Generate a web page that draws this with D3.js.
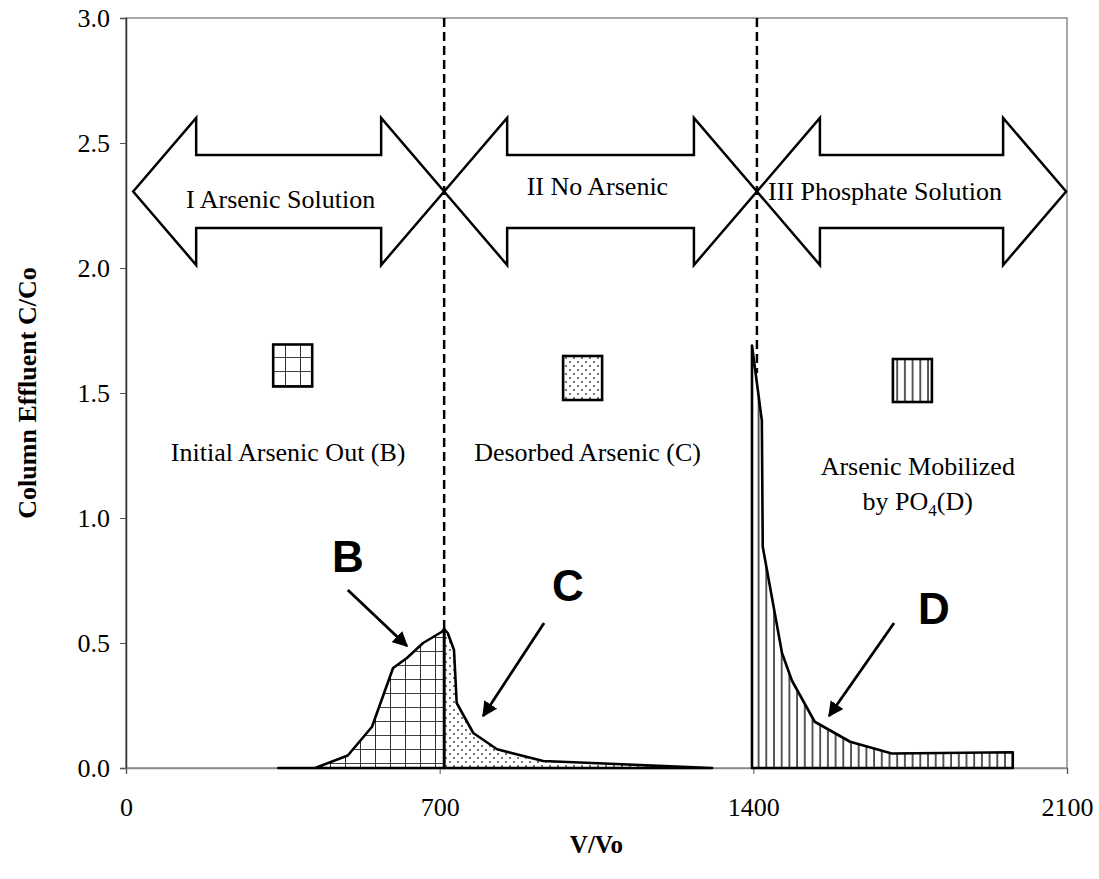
<!DOCTYPE html>
<html>
<head>
<meta charset="utf-8">
<script src="https://cdn.jsdelivr.net/npm/d3@7"></script>
<style>
  body { margin: 0; background: #fff; }
  svg { display: block; font-family: "Liberation Serif", "Times New Roman", serif; }
</style>
</head>
<body>
<div id="chart"></div>
<script>
const xTicks = [0, 700, 1400, 2100]
const yTicks = [0, 0.5, 1.0, 1.5, 2.0, 2.5, 3.0]

// B: initial arsenic out, C: desorbed arsenic, D: mobilized by PO4
const bV = [340, 422, 495, 549, 596, 627, 663, 705, 710]
const bC = [0, 0, 0.05, 0.165, 0.40, 0.44, 0.50, 0.545, 0.556]
const cV = [710, 718, 732, 738, 775, 828, 931, 1308]
const cC = [0.556, 0.54, 0.472, 0.26, 0.14, 0.075, 0.028, 0]
const dV = [1397, 1419, 1421, 1464, 1486, 1537, 1616, 1709, 1979]
const dC = [1.69, 1.39, 0.885, 0.46, 0.35, 0.185, 0.105, 0.058, 0.063]

const phaseLabels = ['I Arsenic Solution', 'II No Arsenic', 'III Phosphate Solution']
const phaseStart = [16, 710, 1408]
const phaseEnd = [710, 1408, 2098]
const phaseLabelX = [345, 1052, 1694]
const phaseLabelY = [2.24, 2.292, 2.272]

const boundaryV = [710, 1408]
const boundaryBottom = [0.556, 1.58]

const width = 1099, height = 879
const svg = d3.select('#chart').append('svg')
    .attr('width', width)
    .attr('height', height)

const x = d3.scaleLinear().domain([0, 2100]).range([126, 1067])
const y = d3.scaleLinear().domain([0, 3]).range([768, 18])

const defs = svg.append('defs')

const grid = defs.append('pattern')
    .attr('id', 'grid').attr('patternUnits', 'userSpaceOnUse')
    .attr('x', 0).attr('y', 7).attr('width', 15).attr('height', 14)
grid.append('path').attr('d', 'M0,0V14M0,0H15')
    .attr('stroke', '#000').attr('stroke-width', 1.6).attr('fill', 'none')

const dots = defs.append('pattern')
    .attr('id', 'dots').attr('patternUnits', 'userSpaceOnUse')
    .attr('width', 8).attr('height', 8)
dots.append('circle').attr('cx', 2).attr('cy', 2).attr('r', 0.9).attr('fill', '#333')
dots.append('circle').attr('cx', 6).attr('cy', 6).attr('r', 0.9).attr('fill', '#333')

const vlines = defs.append('pattern')
    .attr('id', 'vlines').attr('patternUnits', 'userSpaceOnUse')
    .attr('x', 3).attr('width', 7.7).attr('height', 10)
vlines.append('path').attr('d', 'M1,0V10')
    .attr('stroke', '#000').attr('stroke-width', 1.3)

// frame
svg.append('rect')
    .attr('x', x(0)).attr('y', y(3))
    .attr('width', x(2100) - x(0)).attr('height', y(0) - y(3))
    .attr('fill', 'none').attr('stroke', '#8a8a8a').attr('stroke-width', 1.5)

const yAxis = svg.append('g')
    .attr('transform', `translate(${x(0)},0)`)
    .call(d3.axisLeft(y).tickValues(yTicks).tickFormat(d3.format('.1f')).tickSize(6).tickPadding(10))
yAxis.select('.domain').attr('stroke', '#333').attr('stroke-width', 1.5)
yAxis.selectAll('.tick line').attr('stroke', '#555')
yAxis.selectAll('text')
    .attr('font-family', '"Liberation Serif", serif')
    .attr('font-size', 26)
    .attr('fill', '#000')

const xAxis = svg.append('g')
    .attr('transform', `translate(0,${y(0)})`)
    .call(d3.axisBottom(x).tickValues(xTicks).tickFormat(d3.format('d')).tickSize(6).tickPadding(24))
xAxis.select('.domain').attr('stroke', '#8a8a8a').attr('stroke-width', 1.5)
xAxis.selectAll('.tick line').attr('stroke', '#555')
xAxis.selectAll('text')
    .attr('font-family', '"Liberation Serif", serif')
    .attr('font-size', 26)
    .attr('fill', '#000')

svg.append('text')
    .attr('transform', `translate(36,${(y(0) + y(3)) / 2}) rotate(-90)`)
    .attr('text-anchor', 'middle')
    .attr('font-weight', 'bold')
    .attr('font-size', 26)
    .text('Column Effluent C/Co')

svg.append('text')
    .attr('x', (x(0) + x(2100)) / 2)
    .attr('y', 853)
    .attr('text-anchor', 'middle')
    .attr('font-weight', 'bold')
    .attr('font-size', 25)
    .text('V/Vo')

// filled curves
const area = d3.area()
    .x(d => x(d.v))
    .y0(y(0))
    .y1(d => y(d.c))

const series = [
    { fill: 'url(#grid)', pts: bV.map((v, i) => ({ v, c: bC[i] })) },
    { fill: 'url(#dots)', pts: cV.map((v, i) => ({ v, c: cC[i] })) },
    { fill: 'url(#vlines)', pts: dV.map((v, i) => ({ v, c: dC[i] })) }
]

svg.selectAll('.curve')
    .data(series)
    .join('path')
    .attr('class', 'curve')
    .attr('d', d => area(d.pts) + 'Z')
    .attr('fill', d => d.fill)
    .attr('stroke', '#000')
    .attr('stroke-width', 2.6)
    .attr('stroke-linejoin', 'round')

// phase boundaries
svg.selectAll('.boundary')
    .data(boundaryV)
    .join('line')
    .attr('class', 'boundary')
    .attr('x1', d => x(d)).attr('x2', d => x(d))
    .attr('y1', y(3))
    .attr('y2', (d, i) => y(boundaryBottom[i]))
    .attr('stroke', '#000')
    .attr('stroke-width', 2.5)
    .attr('stroke-dasharray', '9,5')

// big double arrows
const headLen = 63, headHalf = 73.5, shaftHalf = 36.5
const arrowY = y(2.306)
function blockArrow(x0, x1) {
    const c = arrowY
    return [
        [x0, c], [x0 + headLen, c - headHalf], [x0 + headLen, c - shaftHalf],
        [x1 - headLen, c - shaftHalf], [x1 - headLen, c - headHalf], [x1, c],
        [x1 - headLen, c + headHalf], [x1 - headLen, c + shaftHalf],
        [x0 + headLen, c + shaftHalf], [x0 + headLen, c + headHalf]
    ]
}

svg.selectAll('.phase')
    .data(phaseLabels)
    .join('path')
    .attr('class', 'phase')
    .attr('d', (d, i) => d3.line()(blockArrow(x(phaseStart[i]), x(phaseEnd[i]))) + 'Z')
    .attr('fill', 'none')
    .attr('stroke', '#000')
    .attr('stroke-width', 2.5)

svg.selectAll('.phase-label')
    .data(phaseLabels)
    .join('text')
    .attr('class', 'phase-label')
    .attr('x', (d, i) => x(phaseLabelX[i]))
    .attr('y', (d, i) => y(phaseLabelY[i]))
    .attr('text-anchor', 'middle')
    .attr('font-size', 26)
    .text(d => d)

// legend swatches and captions
const swatches = [
    { v: 372, c: 1.61, w: 39, h: 42, fill: 'url(#grid)' },
    { v: 1019, c: 1.56, w: 39, h: 44, fill: 'url(#dots)' },
    { v: 1755, c: 1.55, w: 39, h: 43, fill: 'url(#vlines)' }
]
svg.selectAll('.swatch')
    .data(swatches)
    .join('rect')
    .attr('class', 'swatch')
    .attr('x', d => x(d.v) - d.w / 2)
    .attr('y', d => y(d.c) - d.h / 2)
    .attr('width', d => d.w)
    .attr('height', d => d.h)
    .attr('fill', d => d.fill)
    .attr('stroke', '#000')
    .attr('stroke-width', 2.6)

const captions = [
    { v: 362, c: 1.228, t: 'Initial Arsenic Out (B)' },
    { v: 1030, c: 1.228, t: 'Desorbed Arsenic (C)' },
    { v: 1767, c: 1.172, t: 'Arsenic Mobilized' }
]
svg.selectAll('.caption')
    .data(captions)
    .join('text')
    .attr('class', 'caption')
    .attr('x', d => x(d.v))
    .attr('y', d => y(d.c))
    .attr('text-anchor', 'middle')
    .attr('font-size', 26)
    .text(d => d.t)

const po4 = svg.append('text')
    .attr('x', x(1767))
    .attr('y', y(1.032))
    .attr('text-anchor', 'middle')
    .attr('font-size', 26)
po4.append('tspan').text('by PO')
po4.append('tspan').attr('font-size', 17).attr('dy', 6).text('4')
po4.append('tspan').attr('dy', -6).text('(D)')

// letter callouts
defs.append('marker')
    .attr('id', 'head')
    .attr('viewBox', '0 0 10 10')
    .attr('refX', 9).attr('refY', 5)
    .attr('markerWidth', 5.5).attr('markerHeight', 5.5)
    .attr('markerUnits', 'strokeWidth')
    .attr('orient', 'auto')
    .append('path').attr('d', 'M0,0L10,5L0,10Z').attr('fill', '#000')

const callouts = [
    { t: 'B', lv: 495, lc: 0.784, v0: 495, c0: 0.712, v1: 627, c1: 0.488 },
    { t: 'C', lv: 986, lc: 0.668, v0: 933, c0: 0.58, v1: 797, c1: 0.208 },
    { t: 'D', lv: 1803, lc: 0.576, v0: 1714, c0: 0.58, v1: 1569, c1: 0.208 }
]
svg.selectAll('.callout-line')
    .data(callouts)
    .join('line')
    .attr('class', 'callout-line')
    .attr('x1', d => x(d.v0)).attr('y1', d => y(d.c0))
    .attr('x2', d => x(d.v1)).attr('y2', d => y(d.c1))
    .attr('stroke', '#000')
    .attr('stroke-width', 2.8)
    .attr('marker-end', 'url(#head)')

svg.selectAll('.callout-text')
    .data(callouts)
    .join('text')
    .attr('class', 'callout-text')
    .attr('x', d => x(d.lv))
    .attr('y', d => y(d.lc))
    .attr('text-anchor', 'middle')
    .attr('font-family', '"Liberation Sans", Arial, sans-serif')
    .attr('font-weight', 'bold')
    .attr('font-size', 44)
    .text(d => d.t)
</script>
</body>
</html>
